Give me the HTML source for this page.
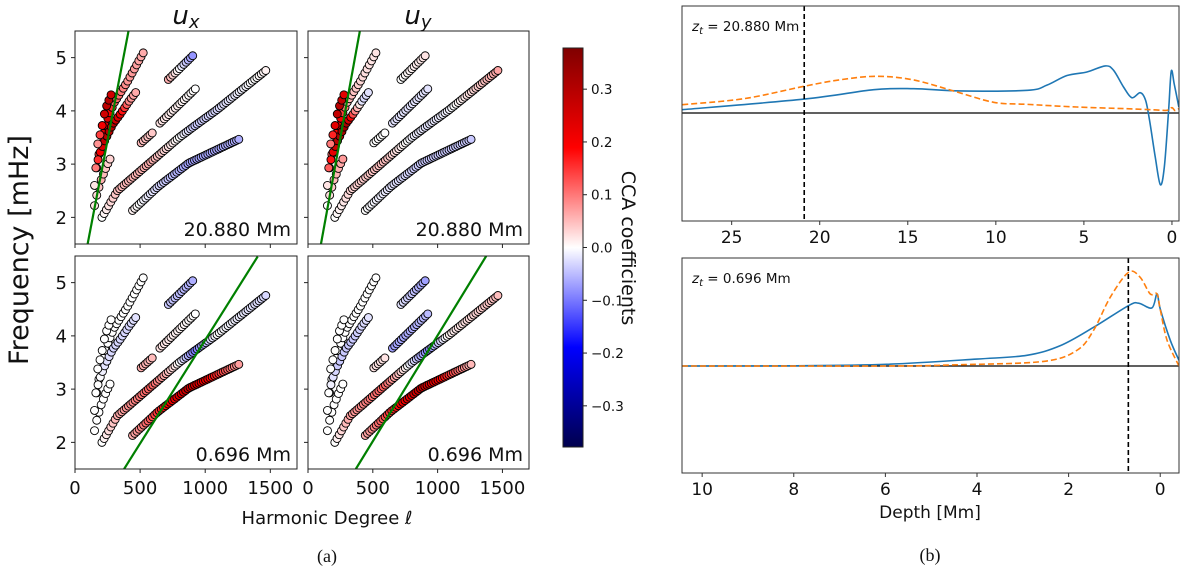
<!DOCTYPE html>
<html><head><meta charset="utf-8">
<style>
html,body{margin:0;padding:0;background:#fff;}
svg{display:block;font-family:"DejaVu Sans","Liberation Sans",sans-serif;}
</style></head>
<body>
<svg id="fig" width="1200" height="568" viewBox="0 0 1200 568" xmlns="http://www.w3.org/2000/svg">
<defs>
<linearGradient id="seis" x1="0" y1="1" x2="0" y2="0">
<stop offset="0" stop-color="rgb(0,0,77)"/>
<stop offset="0.25" stop-color="rgb(0,0,255)"/>
<stop offset="0.5" stop-color="rgb(255,255,255)"/>
<stop offset="0.75" stop-color="rgb(255,0,0)"/>
<stop offset="1" stop-color="rgb(128,0,0)"/>
</linearGradient>
</defs>
</svg>
<script>
// ---------- data: ridges (harmonic degree, frequency mHz anchors) ----------
const ridgeA = [[150,2.22],[170,2.45],[200,2.7],[240,2.95],[280,3.15]];
const ridgeB = [[150,2.6],[165,2.9],[185,3.2],[215,3.55],[250,3.85],[300,4.15],[403,4.55],[470,4.85],[540,5.16]];
const ridgeC = [[160,2.93],[190,3.2],[230,3.45],[290,3.75],[351,3.95],[420,4.2],[474,4.37]];
const ridgeD = [[175,3.38],[207,3.7],[233,4.03],[260,4.2],[280,4.32]];
const ridgeE = [[207,2.0],[325,2.5],[586,3.05],[800,3.5],[920,3.72],[1084,4.01],[1476,4.78]];
const ridgeF = [[442,2.13],[639,2.58],[874,3.02],[1262,3.47]];
const ridgeG1 = [[508,3.40],[600,3.60]];
const ridgeG2 = [[652,3.77],[927,4.42]];
const ridgeH = [[717,4.59],[906,5.04]];
const ridges = [ridgeA,ridgeB,ridgeC,ridgeD,ridgeE,ridgeF,ridgeG1,ridgeG2,ridgeH];

// CCA coefficients at ridge anchors, per panel
const coefUxDeep = [[0.02,0.03,0.06,0.04,0.03],[0.02,0.08,0.15,0.22,0.25,0.12,0.08,0.07,0.06],[0.1,0.2,0.28,0.3,0.2,0.08,0.06],[0.08,0.2,0.28,0.3,0.25],[0.0,0.05,0.06,0.0,-0.04,-0.03,0.01],[0.01,-0.03,-0.07,-0.06],[0.05,0.04],[0.02,0.0],[0.06,-0.08]];
const coefUyDeep = [[0.0,0.03,0.05,0.06,0.08],[0.02,0.06,0.12,0.2,0.2,0.06,0.03,0.02,0.02],[0.12,0.22,0.3,0.33,0.12,-0.03,-0.02],[0.1,0.22,0.3,0.28,0.22],[0.0,0.03,0.05,-0.01,-0.02,-0.01,0.07],[0.0,-0.02,-0.04,-0.04],[0.0,0.0],[-0.02,-0.02],[0.0,0.02]];
const coefUxShallow = [[0,0,0,0,0],[0,0,0,0,0,0,0,0,0],[0,0,-0.02,-0.03,-0.03,-0.03,-0.02],[0,0,0,0,0],[0.0,0.06,0.12,0.0,-0.1,0.0,-0.03],[0.06,0.15,0.27,0.07],[0.06,0.05],[0.02,0.0],[-0.04,-0.06]];
const coefUyShallow = [[0,0,0,0,0],[0,0,0,0,0,0,0,0,0],[0,-0.02,-0.04,-0.04,-0.04,-0.03,-0.02],[0,0,0,0,0],[0.0,0.07,0.12,-0.02,-0.09,0.01,0.05],[0.06,0.15,0.28,0.05],[0.02,0.02],[-0.07,-0.05],[-0.02,-0.07]];
const greenDeepUx = [[97,1.5],[411,5.5]];
const greenDeepUy = [[100,1.5],[400,5.5]];
const greenShallowUx = [[377,1.5],[1403,5.49]];
const greenShallowUy = [[369,1.5],[1375,5.5]];
const lTicks = [0,500,1000,1500];
const nuTicks = [2,3,4,5];
const cbTicks = [0.3,0.2,0.1,0.0,-0.1,-0.2,-0.3];
const cbMax = 0.378;

// ---------- data: kernels (depth Mm, amplitude) ----------
const deepBlueDepth = [27.8,20.88,16.93,14.66,12.0,8.2,7.1,5.96,4.83,3.79,3.32,2.75,2.28,1.8,1.5,1.27,0.95,0.66,0.43,0.19,0.04,-0.13,-0.39];
const deepBlueVal = [0.031,0.13,0.218,0.227,0.206,0.212,0.26,0.35,0.383,0.44,0.40,0.243,0.143,0.19,0.12,-0.07,-0.41,-0.67,-0.5,0.025,0.39,0.27,0.056];
const deepOrangeDepth = [27.8,24.3,20.88,18.86,16.78,14.7,12.4,10.13,8.24,5.4,2.57,1.05,0.29,0.0,-0.19,-0.39];
const deepOrangeVal = [0.078,0.134,0.25,0.31,0.343,0.31,0.206,0.10,0.081,0.056,0.04,0.03,0.025,0.05,0.02,0.04];
const shBlueDepth = [10.44,8.0,5.97,4.0,2.91,2.18,1.46,0.69,0.47,0.18,0.07,0.0,-0.22,-0.41];
const shBlueVal = [0,0.002,0.016,0.065,0.1,0.19,0.36,0.565,0.587,0.543,0.674,0.534,0.24,0.053];
const shOrangeDepth = [10.44,6.0,4.37,2.55,1.82,1.46,1.09,0.69,0.44,0.22,0.07,0.0,-0.15,-0.41];
const shOrangeVal = [0,0,0.012,0.043,0.146,0.33,0.643,0.876,0.83,0.674,0.674,0.53,0.24,0];
const deepTicks = [25,20,15,10,5,0];
const shTicks = [10,8,6,4,2,0];

// ---------- helpers ----------
const svg = document.getElementById('fig');
const NS = 'http://www.w3.org/2000/svg';
function mk(tag, attrs, parent){
  const e = document.createElementNS(NS, tag);
  for (const k in attrs) e.setAttribute(k, attrs[k]);
  (parent||svg).appendChild(e);
  return e;
}
function seismic(v){
  let t = Math.max(-1, Math.min(1, v/cbMax));
  let r,g,b;
  if (t < -0.5){ const f=(t+1)/0.5; r=0; g=0; b=77+(255-77)*f; }
  else if (t < 0){ const f=(t+0.5)/0.5; r=255*f; g=255*f; b=255; }
  else if (t < 0.5){ const f=t/0.5; r=255; g=255*(1-f); b=255*(1-f); }
  else { const f=(t-0.5)/0.5; r=255-127*f; g=0; b=0; }
  return `rgb(${Math.round(r)},${Math.round(g)},${Math.round(b)})`;
}

// ---------- left panels ----------
const panels = [
  {x0:75,x1:297,y0:31,y1:244,coef:coefUxDeep,green:greenDeepUx,label:'20.880 Mm',ylab:true,xlab:false,name:'ux-deep'},
  {x0:308,x1:529,y0:31,y1:244,coef:coefUyDeep,green:greenDeepUy,label:'20.880 Mm',ylab:false,xlab:false,name:'uy-deep'},
  {x0:75,x1:297,y0:256,y1:469,coef:coefUxShallow,green:greenShallowUx,label:'0.696 Mm',ylab:true,xlab:true,name:'ux-shallow'},
  {x0:308,x1:529,y0:256,y1:469,coef:coefUyShallow,green:greenShallowUy,label:'0.696 Mm',ylab:false,xlab:true,name:'uy-shallow'}
];
panels.forEach(p=>{
  const g = mk('g',{});
  
  
  const L0=0, L1=1705, N0=1.5, N1=5.5;
  const sx = l => p.x0 + (l-L0)/(L1-L0)*(p.x1-p.x0);
  const sy = n => p.y1 - (n-N0)/(N1-N0)*(p.y1-p.y0);
  const clipId = 'clip-'+p.name;
  const cp = mk('clipPath',{id:clipId}, g);
  mk('rect',{x:p.x0,y:p.y0,width:p.x1-p.x0,height:p.y1-p.y0}, cp);
  const dots = mk('g',{'clip-path':`url(#${clipId})`}, g);
  ridges.forEach((r,ri)=>{
    const cs = p.coef[ri];
    for (let l = r[0][0]; l <= r[r.length-1][0]+0.01; l += 17){
      let k = 0; while (k < r.length-2 && l > r[k+1][0]) k++;
      const f = (l - r[k][0])/((r[k+1][0]-r[k][0])||1);
      const nu = r[k][1] + f*(r[k+1][1]-r[k][1]);
      const c = cs[k] + f*(cs[k+1]-cs[k]);
      const d = mk('circle',{cx:sx(l),cy:sy(nu),r:4,fill:seismic(c),stroke:'#000','stroke-width':0.9}, dots);
      
      
    }
  });
  const gl = mk('line',{x1:sx(p.green[0][0]),y1:sy(p.green[0][1]),x2:sx(p.green[1][0]),y2:sy(p.green[1][1]),stroke:'#008000','stroke-width':2.2,'clip-path':`url(#${clipId})`}, g);
  
  
  const fr = mk('rect',{x:p.x0,y:p.y0,width:p.x1-p.x0,height:p.y1-p.y0,fill:'none',stroke:'#222','stroke-width':1}, g);
  
  
  lTicks.forEach(t=>{
    mk('line',{x1:sx(t),x2:sx(t),y1:p.y1,y2:p.y1+4,stroke:'#222'}, g);
    if (p.xlab){
      const tx = mk('text',{x:sx(t),y:p.y1+25,'font-size':18,'text-anchor':'middle',fill:'#111'}, g);
      tx.textContent = t;
      
      
    }
  });
  nuTicks.forEach(t=>{
    mk('line',{x1:p.x0-4,x2:p.x0,y1:sy(t),y2:sy(t),stroke:'#222'}, g);
    if (p.ylab){
      const tx = mk('text',{x:p.x0-8,y:sy(t)+6.5,'font-size':18,'text-anchor':'end',fill:'#111'}, g);
      tx.textContent = t;
      
      
    }
  });
  const lb = mk('text',{x:p.x1-6,y:p.y1-8,'font-size':19,'text-anchor':'end',fill:'#111'}, g);
  lb.textContent = p.label;
  
  
});
// titles
let t1 = mk('text',{x:186,y:24,'font-size':26,'font-style':'italic','text-anchor':'middle',fill:'#111'});
t1.innerHTML = 'u<tspan font-size="18" dy="4">x</tspan>';


let t2 = mk('text',{x:418,y:24,'font-size':26,'font-style':'italic','text-anchor':'middle',fill:'#111'});
t2.innerHTML = 'u<tspan font-size="18" dy="4">y</tspan>';


let yl = mk('text',{x:0,y:0,'font-size':27,'text-anchor':'middle',fill:'#111',transform:'translate(28,250) rotate(-90)'});
yl.textContent = 'Frequency [mHz]';


let xl = mk('text',{x:327,y:524,'font-size':18,'text-anchor':'middle',fill:'#111'});
xl.textContent = 'Harmonic Degree ℓ';


let ca = mk('text',{x:327,y:562,'font-size':18,'text-anchor':'middle',fill:'#111','font-family':'Liberation Serif, serif'});
ca.textContent = '(a)';



// ---------- colorbar ----------
const cbX=563, cbW=20, cbY0=48, cbY1=447;
const cbar = mk('rect',{x:cbX,y:cbY0,width:cbW,height:cbY1-cbY0,fill:'url(#seis)',stroke:'#222','stroke-width':1});


const cby = v => cbY1 - (v+cbMax)/(2*cbMax)*(cbY1-cbY0);
cbTicks.forEach(t=>{
  mk('line',{x1:cbX+cbW,x2:cbX+cbW+4,y1:cby(t),y2:cby(t),stroke:'#222'});
  const tx = mk('text',{x:cbX+cbW+8,y:cby(t)+5,'font-size':13.5,fill:'#111'});
  tx.textContent = (t<0?'\u2212':'')+Math.abs(t).toFixed(1);
  
  
});
let cl = mk('text',{x:0,y:0,'font-size':19,'text-anchor':'middle',fill:'#111',transform:'translate(622,248) rotate(90)'});
cl.textContent = 'CCA coefficients';



// ---------- right panels ----------
function smoothPath(pts){
  let d = `M${pts[0][0]},${pts[0][1]}`;
  for (let i=0;i<pts.length-1;i++){
    const p0=pts[Math.max(0,i-1)], p1=pts[i], p2=pts[i+1], p3=pts[Math.min(pts.length-1,i+2)];
    const c1=[p1[0]+(p2[0]-p0[0])/6, p1[1]+(p2[1]-p0[1])/6];
    const c2=[p2[0]-(p3[0]-p1[0])/6, p2[1]-(p3[1]-p1[1])/6];
    d += ` C${c1[0]},${c1[1]} ${c2[0]},${c2[1]} ${p2[0]},${p2[1]}`;
  }
  return d;
}
const kpanels = [
  {x0:682,x1:1179,y0:6,y1:221,zeroY:113,scale:107,dMax:27.82,dMin:-0.4,ticks:deepTicks,bd:deepBlueDepth,bv:deepBlueVal,od:deepOrangeDepth,ov:deepOrangeVal,zt:20.88,label:'20.880',name:'deep'},
  {x0:682,x1:1179,y0:258,y1:473,zeroY:366,scale:107,dMax:10.44,dMin:-0.41,ticks:shTicks,bd:shBlueDepth,bv:shBlueVal,od:shOrangeDepth,ov:shOrangeVal,zt:0.696,label:'0.696',name:'shallow'}
];
kpanels.forEach(p=>{
  const g = mk('g',{});
  
  
  const sx = d => p.x0 + (p.dMax-d)/(p.dMax-p.dMin)*(p.x1-p.x0);
  const sy = v => p.zeroY - v*p.scale;
  const clipId='kclip-'+p.name;
  const cp = mk('clipPath',{id:clipId}, g);
  mk('rect',{x:p.x0,y:p.y0,width:p.x1-p.x0,height:p.y1-p.y0}, cp);
  const z = mk('line',{x1:p.x0,x2:p.x1,y1:p.zeroY,y2:p.zeroY,stroke:'#000','stroke-width':1.2}, g);
  
  
  const bl = mk('path',{d:smoothPath(p.bd.map((d,i)=>[sx(d),sy(p.bv[i])])),fill:'none',stroke:'#1f77b4','stroke-width':1.6,'clip-path':`url(#${clipId})`}, g);
  
  
  const ol = mk('path',{d:smoothPath(p.od.map((d,i)=>[sx(d),sy(p.ov[i])])),fill:'none',stroke:'#ff7f0e','stroke-width':1.6,'stroke-dasharray':'6,3','clip-path':`url(#${clipId})`}, g);
  
  
  const vl = mk('line',{x1:sx(p.zt),x2:sx(p.zt),y1:p.y0,y2:p.y1,stroke:'#000','stroke-width':1.6,'stroke-dasharray':'5,3'}, g);
  
  
  const fr = mk('rect',{x:p.x0,y:p.y0,width:p.x1-p.x0,height:p.y1-p.y0,fill:'none',stroke:'#333','stroke-width':1}, g);
  
  
  p.ticks.forEach(t=>{
    mk('line',{x1:sx(t),x2:sx(t),y1:p.y1,y2:p.y1+4,stroke:'#333'}, g);
    const tx = mk('text',{x:sx(t),y:p.y1+22,'font-size':17,'text-anchor':'middle',fill:'#111'}, g);
    tx.textContent = t;
    
    
  });
  const lb = mk('text',{x:p.x0+10,y:p.y0+25,'font-size':13.5,fill:'#111'}, g);
  lb.innerHTML = '<tspan font-style="italic">z</tspan><tspan font-size="10" dy="3" font-style="italic">t</tspan><tspan dy="-3"> = '+p.label+' Mm</tspan>';
  
  
});
let dl = mk('text',{x:930,y:518,'font-size':17,'text-anchor':'middle',fill:'#111'});
dl.textContent = 'Depth [Mm]';


let cb2 = mk('text',{x:930,y:561,'font-size':18,'text-anchor':'middle',fill:'#111','font-family':'Liberation Serif, serif'});
cb2.textContent = '(b)';


</script>
</body></html>
